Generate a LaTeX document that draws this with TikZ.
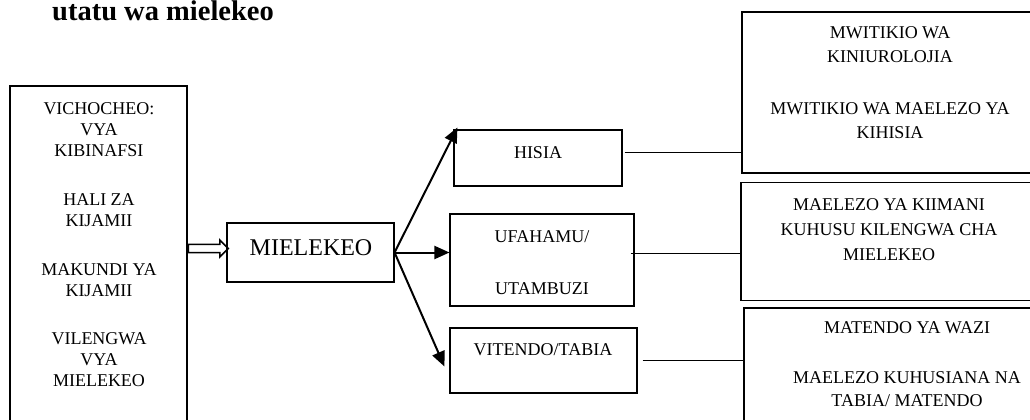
\documentclass[tikz,border=0pt]{standalone}
\usepackage{fontspec}
\setmainfont{Liberation Serif}
\usetikzlibrary{arrows.meta,positioning,shapes.arrows}

\begin{document}
\begin{tikzpicture}[x=1pt, y=-1pt,
      box/.style={draw, line width=1.1pt, inner sep=0pt},
      txt/.style={align=center, inner sep=0pt, font=\fontsize{18}{21}\selectfont},
      arr/.style={line width=2pt, -{Triangle[length=15pt,width=13pt]}},
      link/.style={line width=1pt}]
      \useasboundingbox (0,0) rectangle (1030,420);
      \clip (0,0) rectangle (1030,420);
      \node [anchor=base west, inner sep=0pt, font=\fontsize{28.5}{33}\selectfont\bfseries] (title) at (52,20.5) {utatu wa mielekeo};
      % left column
      \node [box, minimum width=177pt, minimum height=339pt] (src) at (98.5,255.5) {};
      \node [txt] (srcT) at (99,244.5) {VICHOCHEO:\\VYA\\KIBINAFSI\\[28pt]HALI ZA\\KIJAMII\\[28pt]MAKUNDI YA\\KIJAMII\\[27pt]VILENGWA\\VYA\\MIELEKEO};
      \node [box, minimum width=167pt, minimum height=59pt] (att) at (310.5,252.5) {};
      \node [txt, font=\fontsize{24}{28}\selectfont] (attT) at (311,248) {MIELEKEO};
      % middle column
      \node [box, minimum width=168pt, minimum height=56pt] (hisia) at (538,158) {};
      \node [txt] (hisiaT) at (538,152.5) {HISIA};
      \node [box, minimum width=184pt, minimum height=92pt] (ufa) at (542,260) {};
      \node [txt] (ufaT) at (542,263) {UFAHAMU/\\[31pt]UTAMBUZI};
      \node [box, minimum width=187pt, minimum height=65pt] (vit) at (543.5,360.5) {};
      \node [txt] (vitT) at (543,350) {VITENDO/TABIA};
      % right column
      \node [box, minimum width=292pt, minimum height=161pt] (res1) at (888,92.5) {};
      \node [txt, font=\fontsize{18}{23.5}\selectfont] (res1T) at (890,82.5) {MWITIKIO WA\\KINIUROLOJIA\\[29pt]MWITIKIO WA MAELEZO YA\\KIHISIA};
      \node [box, minimum width=293pt, minimum height=118pt] (res2) at (887.5,241.5) {};
      \node [txt, font=\fontsize{18}{25}\selectfont] (res2T) at (889,230) {MAELEZO YA KIIMANI\\KUHUSU KILENGWA CHA\\MIELEKEO};
      \node [box, minimum width=290pt, minimum height=122pt] (res3) at (889,369) {};
      \node [txt, font=\fontsize{18}{22.5}\selectfont] (res3T) at (907,364) {MATENDO YA WAZI\\[27.5pt]MAELEZO KUHUSIANA NA\\TABIA/ MATENDO};
      % connectors
      \coordinate (dy) at (0,248.5);
      \node [draw, line width=1.5pt, single arrow, single arrow head extend=4.5pt,
             minimum height=40pt, inner sep=3.3pt, anchor=west] (dbl) at (src.east |- dy) {};
      \draw [arr] (att.east) -- ([xshift=4pt,yshift=2pt]hisia.north west);
      \draw [arr] (att.east) -- (att.east -| ufa.west);
      \draw [arr] (att.east) -- ([xshift=-5pt,yshift=-6pt]vit.west);
      \draw [link, shorten <=2pt] (hisia.east |- hisiaT) -- (res1.west |- hisiaT);
      \draw [link, shorten <=-4pt, shorten >=-2pt] ([yshift=7pt]ufa.east) -- ([yshift=7pt]ufa.east -| res2.west);
      \draw [link, shorten <=5pt, shorten >=-2pt] (vit.east) -- (vit.east -| res3.west);
\end{tikzpicture}
\end{document}
